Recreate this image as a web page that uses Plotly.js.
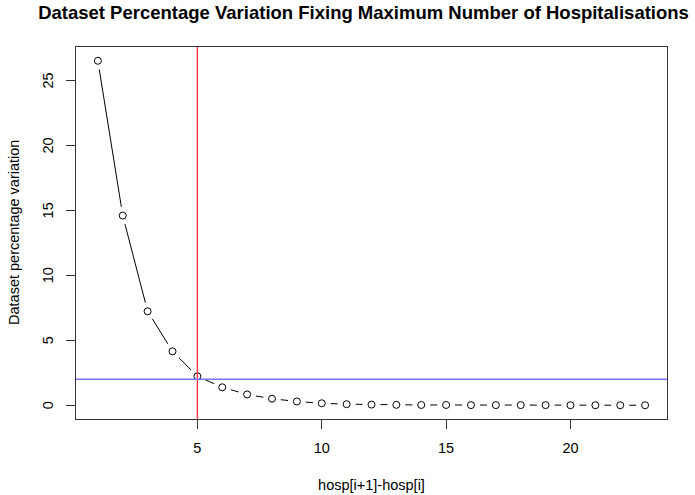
<!DOCTYPE html>
<html>
<head>
<meta charset="utf-8">
<script src="https://cdn.plot.ly/plotly-3.0.1.min.js"></script>
<style>
  html, body { margin: 0; padding: 0; background: #fff; }
  #chart { width: 695px; height: 495px; }
</style>
</head>
<body>
<div id="chart"></div>
<script>
// Gap between consecutive hospitalisation caps (x) and the resulting
// percentage change in dataset size (y).
const hospGap = [1, 2, 3, 4, 5, 6, 7, 8, 9, 10, 11, 12, 13, 14, 15, 16, 17, 18, 19, 20, 21, 22, 23];
const pctVariation = [26.52, 14.6, 7.23, 4.15, 2.23, 1.38, 0.83, 0.5, 0.29, 0.15, 0.08, 0.05, 0.03,
                      0.02, 0.02, 0.01, 0.01, 0.01, 0.01, 0.0, 0.0, 0.0, 0.0];

// Reference lines: chosen cut-off and 2% tolerance level
const cutoffX = 5;
const toleranceY = 2;

const xTicks = [5, 10, 15, 20];
const yTicks = [0, 5, 10, 15, 20, 25];

const font = "Liberation Sans, Arial, Helvetica, sans-serif";

// R-style "b" plot: line, then white discs that open gaps around each point, then open circles
const traces = [
  {
    x: hospGap, y: pctVariation, type: "scatter", mode: "lines",
    line: { color: "#000", width: 1 }, hoverinfo: "skip", showlegend: false
  },
  {
    x: hospGap, y: pctVariation, type: "scatter", mode: "markers",
    marker: { symbol: "circle", size: 18, color: "#fff", line: { width: 0 } },
    hoverinfo: "skip", showlegend: false
  },
  {
    x: hospGap, y: pctVariation, type: "scatter", mode: "markers",
    marker: { symbol: "circle-open", size: 7, color: "#000", line: { width: 1, color: "#000" } },
    showlegend: false
  }
];

// Vertical (R-style) y tick labels and y title, placed left of the axis
const annotations = yTicks.map(v => ({
  text: String(v), xref: "paper", x: 0, xanchor: "center", xshift: -28,
  yref: "y", y: v, yanchor: "middle", textangle: -90, showarrow: false,
  font: { family: font, size: 14.5, color: "#000" }
}));
annotations.push({
  text: "Dataset percentage variation", xref: "paper", x: 0, xanchor: "center", xshift: -62,
  yref: "paper", y: 0.5, yanchor: "middle", textangle: -90, showarrow: false,
  font: { family: font, size: 14.5, color: "#000" }
});

const layout = {
  width: 695, height: 495,
  margin: { l: 76, r: 28, t: 47, b: 76, pad: 0 },
  paper_bgcolor: "#fff", plot_bgcolor: "#fff",
  font: { family: font, color: "#000", size: 14.5 },
  showlegend: false,
  title: {
    text: "<b>Dataset Percentage Variation Fixing Maximum Number of Hospitalisations</b>",
    font: { family: font, size: 18.5, color: "#000" },
    xref: "container", x: 363.5 / 695, xanchor: "center",
    yref: "container", y: 1 - 12.5 / 495, yanchor: "middle"
  },
  xaxis: {
    range: [0.12, 23.88], tickvals: xTicks, ticktext: xTicks.map(String),
    ticks: "outside", ticklen: 9, tickwidth: 1, tickcolor: "#333",
    showline: true, mirror: true, linecolor: "#333", linewidth: 1,
    showgrid: false, zeroline: false, ticklabelstandoff: 7,
    tickfont: { size: 14.5 },
    title: { text: "hosp[i+1]-hosp[i]", font: { size: 14.5 }, standoff: 24 }
  },
  yaxis: {
    range: [-1.06, 27.58], tickvals: yTicks, showticklabels: false,
    ticks: "outside", ticklen: 9, tickwidth: 1, tickcolor: "#333",
    showline: true, mirror: true, linecolor: "#333", linewidth: 1,
    showgrid: false, zeroline: false
  },
  annotations: annotations,
  shapes: [
    {
      type: "line", layer: "above", xref: "x", yref: "paper",
      x0: cutoffX, x1: cutoffX, y0: 0, y1: 1,
      line: { color: "#ff3344", width: 1.4 }
    },
    {
      type: "line", layer: "above", xref: "paper", yref: "y",
      x0: 0, x1: 1, y0: toleranceY, y1: toleranceY,
      line: { color: "#7474ff", width: 1.5 }
    }
  ]
};

Plotly.newPlot("chart", traces, layout, { displayModeBar: false, staticPlot: true });
</script>
</body>
</html>
